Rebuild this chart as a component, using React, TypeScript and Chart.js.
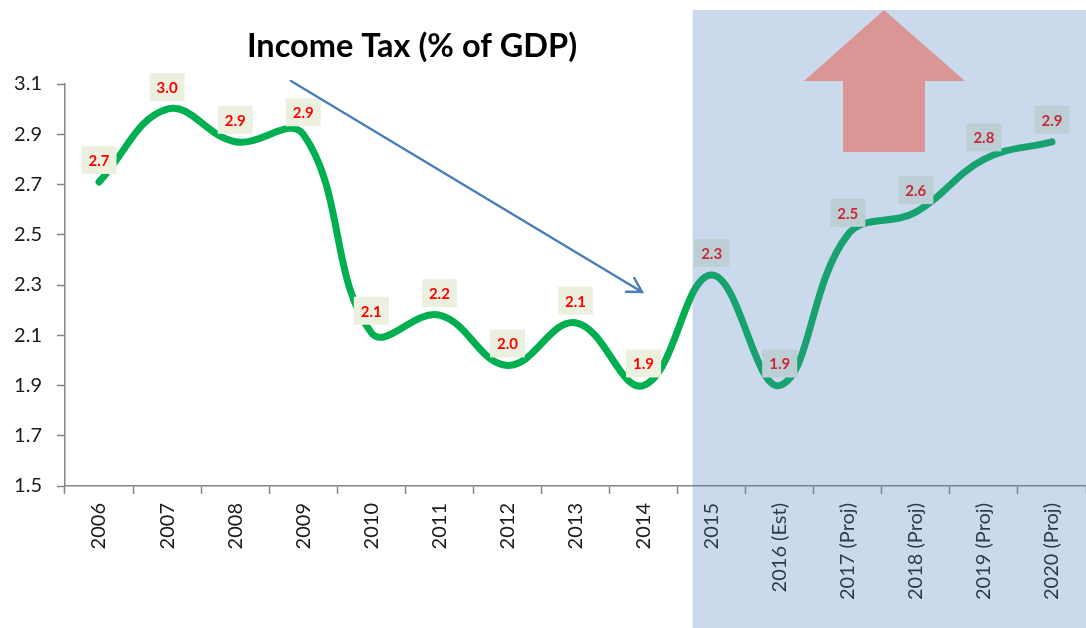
import React, { useEffect, useRef } from "react";
import { Chart, registerables } from "chart.js";
Chart.register(...registerables);

const categories = [
  "2006", "2007", "2008", "2009", "2010", "2011", "2012", "2013", "2014",
  "2015", "2016 (Est)", "2017 (Proj)", "2018 (Proj)", "2019 (Proj)", "2020 (Proj)",
];
const incomeTax = [2.71, 3.0, 2.87, 2.9, 2.11, 2.18, 1.98, 2.15, 1.9, 2.34, 1.9, 2.5, 2.59, 2.8, 2.87];
const yMin = 1.5;
const yMax = 3.1;
const yStep = 0.2;
const chartTitle = "Income Tax (% of GDP)";
const shadedStartIndex = 9; // projections shaded from 2015 onward

const W = 1086;
const H = 628;

const decorPlugin = {
  id: "decor",
  afterDatasetsDraw(chart: any) {
    const ctx = chart.ctx;
    const meta = chart.getDatasetMeta(0);
    const data = chart.data.datasets[0].data as number[];
    ctx.save();
    meta.data.forEach((pt: any, i: number) => {
      const cx = pt.x;
      const cy = pt.y - 22;
      ctx.fillStyle = "#EBF1DE";
      ctx.fillRect(cx - 17.5, cy - 14, 35, 28);
      ctx.fillStyle = "#ff0000";
      ctx.font = "bold 15px Lato";
      ctx.textAlign = "center";
      ctx.textBaseline = "middle";
      ctx.fillText(data[i].toFixed(1), cx, cy + 1);
    });
    ctx.restore();
  },
  afterDraw(chart: any) {
    const ctx = chart.ctx;
    const xs = chart.scales.x;
    const p0 = xs.getPixelForValue(shadedStartIndex - 1);
    const p1 = xs.getPixelForValue(shadedStartIndex);
    const left = p0 + 0.72 * (p1 - p0);
    ctx.save();
    // shaded projection region
    ctx.fillStyle = "rgba(79,129,189,0.3)";
    ctx.fillRect(left, 10, W - left, H - 10);

    // big up arrow
    ctx.fillStyle = "#da9694";
    ctx.beginPath();
    ctx.moveTo(884, 10);
    ctx.lineTo(965, 81);
    ctx.lineTo(925, 81);
    ctx.lineTo(925, 152);
    ctx.lineTo(843, 152);
    ctx.lineTo(843, 81);
    ctx.lineTo(804, 81);
    ctx.closePath();
    ctx.fill();

    // blue down-trend arrow
    const x1 = 291, y1 = 81, x2 = 642, y2 = 292;
    ctx.strokeStyle = "#4a7ebb";
    ctx.lineWidth = 2.5;
    ctx.lineCap = "round";
    ctx.beginPath();
    ctx.moveTo(x1, y1);
    ctx.lineTo(x2, y2);
    const ang = Math.atan2(y2 - y1, x2 - x1);
    const len = 16;
    ctx.moveTo(x2 - len * Math.cos(ang - Math.PI / 6), y2 - len * Math.sin(ang - Math.PI / 6));
    ctx.lineTo(x2, y2);
    ctx.lineTo(x2 - len * Math.cos(ang + Math.PI / 6), y2 - len * Math.sin(ang + Math.PI / 6));
    ctx.stroke();

    // title
    ctx.fillStyle = "#000";
    ctx.textAlign = "center";
    ctx.textBaseline = "alphabetic";
    ctx.font = "bold 30px Lato";
    const w = ctx.measureText(chartTitle).width;
    const size = (30 * 330) / w;
    ctx.font = `bold ${size.toFixed(1)}px Lato`;
    ctx.fillText(chartTitle, 412, 57);
    ctx.restore();
  },
};

export default function App() {
  const ref = useRef<HTMLCanvasElement>(null);
  useEffect(() => {
    document.body.style.margin = "0";
    const canvas = ref.current!;
    const chart = new Chart(canvas, {
      type: "line",
      data: {
        labels: categories,
        datasets: [
          {
            data: incomeTax,
            borderColor: "#00B050",
            borderWidth: 7,
            borderCapStyle: "round",
            borderJoinStyle: "round",
            pointRadius: 0,
            tension: 0.4,
            fill: false,
          },
        ],
      },
      options: {
        animation: false,
        responsive: false,
        devicePixelRatio: 1,
        layout: { padding: { top: 84, right: 0, left: 0, bottom: 0 } },
        plugins: { legend: { display: false }, tooltip: { enabled: false }, title: { display: false } },
        scales: {
          x: {
            type: "category",
            offset: true,
            border: { display: true, color: "#868686", width: 1.5 },
            grid: {
              display: true,
              drawOnChartArea: false,
              drawTicks: true,
              tickLength: 8,
              tickWidth: 1.5,
              tickColor: "#868686",
              offset: true,
            },
            ticks: {
              autoSkip: false,
              minRotation: 90,
              maxRotation: 90,
              padding: 9,
              color: "#1a1a1a",
              font: { family: "Lato", size: 20 },
            },
            afterFit(scale: any) {
              scale.height = 142;
            },
          },
          y: {
            min: yMin,
            max: yMax,
            border: { display: true, color: "#868686", width: 1.5 },
            grid: {
              display: true,
              drawOnChartArea: false,
              drawTicks: true,
              tickLength: 8,
              tickWidth: 1.5,
              tickColor: "#868686",
            },
            ticks: {
              stepSize: yStep,
              padding: 15,
              color: "#1a1a1a",
              font: { family: "Lato", size: 20 },
              callback: (v: any) => Number(v).toFixed(1),
            },
            afterFit(scale: any) {
              scale.width = 65;
            },
          },
        },
      },
      plugins: [decorPlugin],
    } as any);
    return () => chart.destroy();
  }, []);
  return (
    <div style={{ position: "absolute", left: 0, top: 0, width: W, height: H, background: "#fff" }}>
      <canvas ref={ref} width={W} height={H} style={{ width: W, height: H, display: "block" }} />
    </div>
  );
}
